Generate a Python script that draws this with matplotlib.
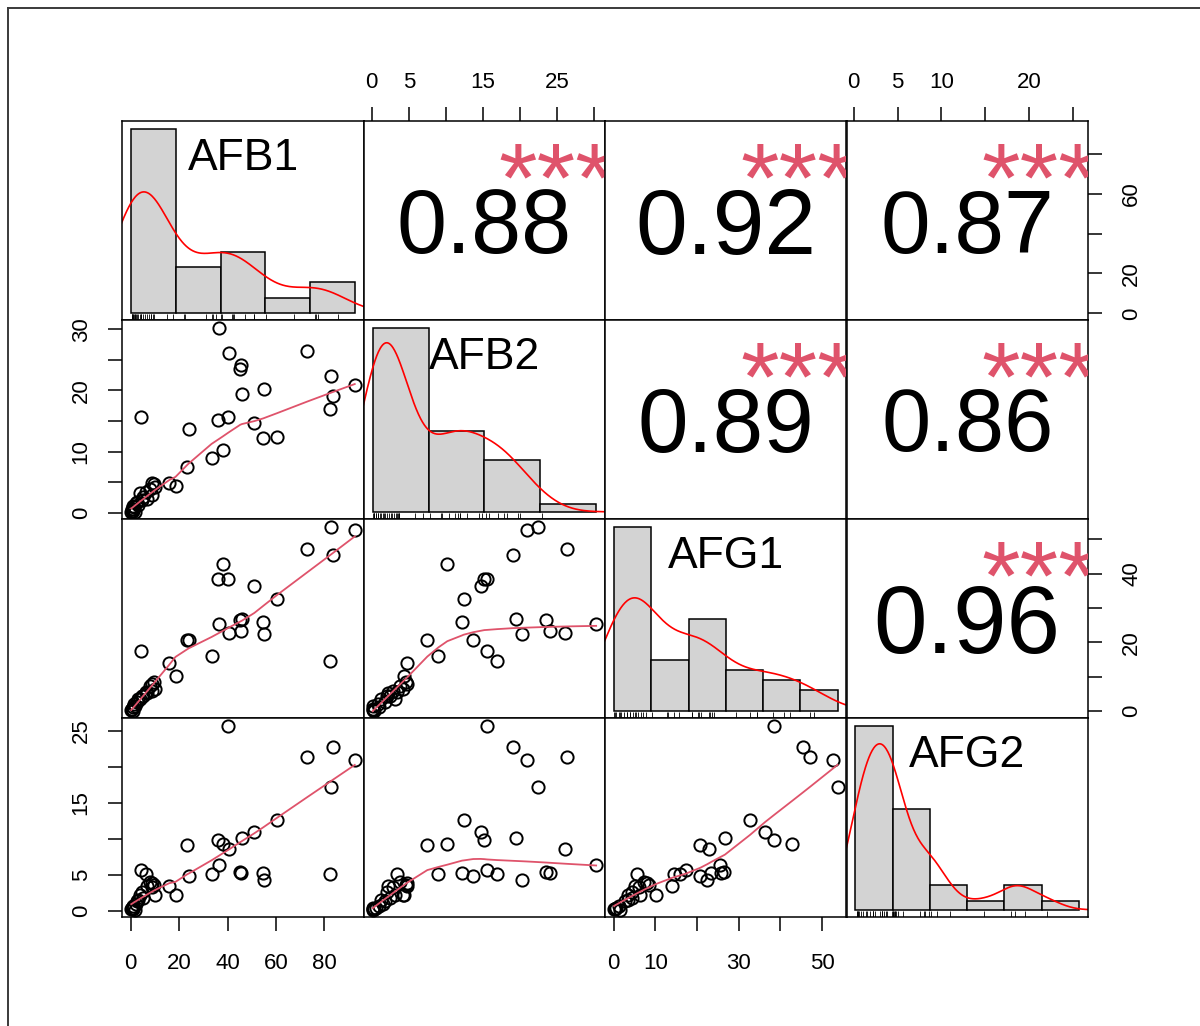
import numpy as np
import matplotlib
matplotlib.use("Agg")
import matplotlib.pyplot as plt
from matplotlib import transforms
from matplotlib.lines import Line2D

plt.rcParams["font.family"] = ["Liberation Sans", "DejaVu Sans"]

# ---------------------------------------------------------------- data
variables = ["AFB1", "AFB2", "AFG1", "AFG2"]

afb1 = [92.6, 83.6, 82.7, 82.2, 72.9, 60.4, 54.7, 54.9, 51.1, 46.0, 45.3, 45.7,
        40.8, 40.2, 36.0, 36.6, 38.1, 33.4, 24.0, 23.4, 4.4, 15.9, 18.5,
        10.1, 9.6, 8.7, 8.9, 8.0, 6.9, 6.2, 5.2, 4.5, 3.9, 3.2, 2.5, 2.1, 1.8,
        1.5, 1.1, 0.9, 0.8, 0.5, 0.4, 0.2]
afb2 = [20.9, 19.1, 22.4, 16.9, 26.4, 12.4, 12.2, 20.3, 14.7, 19.5, 23.5, 24.1,
        26.1, 15.6, 15.2, 30.3, 10.2, 9.0, 13.7, 7.5, 15.6, 4.8, 4.3,
        4.2, 4.6, 4.8, 2.9, 3.8, 2.25, 3.4, 2.5, 2.0, 3.2, 1.27, 1.8, 1.5, 0.16,
        0.9, 1.0, 0.6, 0.3, 0.55, 0.2, 0.12]
afg1 = [52.6, 45.5, 53.7, 14.5, 47.2, 32.7, 25.8, 22.5, 36.4, 26.7, 26.4, 23.4,
        22.8, 38.5, 38.5, 25.4, 42.8, 16.0, 20.8, 20.8, 17.4, 14.1, 10.2,
        6.4, 8.5, 7.9, 6.0, 7.2, 5.2, 5.6, 4.4, 4.4, 3.4, 3.4, 2.8, np.nan, 1.5,
        2.0, 1.2, np.nan, 0.1, np.nan, 0.6, 0.3]
afg2 = [20.9, 22.7, 17.2, 5.2, 21.4, 12.7, 5.3, 4.3, 11.0, 10.1, 5.45, 5.3,
        8.6, 25.7, 9.9, 6.4, 9.3, 5.1, 4.9, 9.2, 5.7, 3.5, 2.3,
        2.3, 3.6, 3.9, 3.3, 4.1, 3.5, 5.1, 1.9, 2.6, 2.3, 1.6, 1.4, 1.0, 0.2,
        np.nan, 0.7, 0.5, 0.3, np.nan, 0.4, 0.25]

# Pearson coefficients and significance codes for the upper panels
corr_cells = [(0, 1), (0, 2), (0, 3), (1, 2), (1, 3), (2, 3)]
corr_values = [0.88, 0.92, 0.87, 0.89, 0.86, 0.96]
corr_signif = ["***", "***", "***", "***", "***", "***"]

# histogram bin width per variable (Freedman-Diaconis result)
hist_bin_width = [20, 10, 10, 5]

# axis ticks and the labels left visible on each outer axis
tick_values = {
    "AFB1": [0, 20, 40, 60, 80],
    "AFB2": [0, 5, 10, 15, 20, 25, 30],
    "AFG1": [0, 10, 20, 30, 40, 50],
    "AFG2": [0, 5, 10, 15, 20, 25],
}
top_labels = {1: ["0", "5", "", "15", "", "25", ""],
              3: ["0", "5", "10", "", "20", ""]}
bottom_labels = {0: ["0", "20", "40", "60", "80"],
                 2: ["0", "10", "", "30", "", "50"]}
left_labels = {1: ["0", "", "10", "", "20", "", "30"],
               3: ["0", "5", "", "15", "", "25"]}
right_labels = {0: ["0", "20", "", "60", ""],
                2: ["0", "", "20", "", "40", ""]}

data = [np.array(v, dtype=float) for v in (afb1, afb2, afg1, afg2)]

# ---------------------------------------------------------------- helpers
ARIAL_W = {".": 0.278, "*": 0.389, "-": 0.333}
for d in "0123456789":
    ARIAL_W[d] = 0.556


def str_em(s):
    return sum(ARIAL_W.get(c, 0.556) for c in s)


def _lowest(x, y, n, xs, nleft, nright, w, userw, rw):
    rng = x[n - 1] - x[0]
    h = max(xs - x[nleft], x[nright] - xs)
    h9, h1 = 0.999 * h, 0.001 * h
    a = 0.0
    j = nleft
    while j < n:
        w[j] = 0.0
        r = abs(x[j] - xs)
        if r <= h9:
            w[j] = 1.0 if r <= h1 else (1 - (r / h) ** 3) ** 3
            if userw:
                w[j] *= rw[j]
            a += w[j]
        elif x[j] > xs:
            break
        j += 1
    nrt = j - 1
    if a <= 0.0:
        return None
    for j in range(nleft, nrt + 1):
        w[j] /= a
    if h > 0:
        a = sum(w[j] * x[j] for j in range(nleft, nrt + 1))
        b = xs - a
        c = sum(w[j] * (x[j] - a) ** 2 for j in range(nleft, nrt + 1))
        if np.sqrt(c) > 0.001 * rng:
            b /= c
            for j in range(nleft, nrt + 1):
                w[j] *= b * (x[j] - a) + 1.0
    return sum(w[j] * y[j] for j in range(nleft, nrt + 1))


def lowess(x, y, f=2 / 3, iters=3):
    o = np.argsort(x, kind="mergesort")
    x = np.asarray(x, float)[o]
    y = np.asarray(y, float)[o]
    n = len(x)
    ns = max(2, min(n, int(f * n + 1e-7)))
    delta = 0.01 * (x[-1] - x[0])
    rw = np.ones(n)
    w = np.zeros(n)
    ys = np.zeros(n)
    for it in range(iters + 1):
        nleft, nright, last, i = 0, ns - 1, -1, 0
        while True:
            if nright < n - 1:
                if x[i] - x[nleft] > x[nright + 1] - x[i]:
                    nleft += 1
                    nright += 1
                    continue
            v = _lowest(x, y, n, x[i], nleft, nright, w, it > 0, rw)
            ys[i] = y[i] if v is None else v
            if last < i - 1:
                den = x[i] - x[last]
                for j in range(last + 1, i):
                    al = (x[j] - x[last]) / den
                    ys[j] = al * ys[i] + (1 - al) * ys[last]
            last = i
            cut = x[last] + delta
            i = last + 1
            while i < n:
                if x[i] > cut:
                    break
                if x[i] == x[last]:
                    ys[i] = ys[last]
                    last = i
                i += 1
            i = max(last + 1, i - 1)
            if last >= n - 1:
                break
        if it >= iters:
            break
        res = y - ys
        sc = np.mean(np.abs(res))
        cmad = 6 * np.median(np.abs(res))
        if cmad < 1e-7 * sc:
            break
        r = np.abs(res)
        rw = np.where(r <= 0.001 * cmad, 1.0,
                      np.where(r <= 0.999 * cmad, (1 - (r / cmad) ** 2) ** 2, 0.0))
    return x, ys


def kde(x):
    n = len(x)
    q75, q25 = np.percentile(x, [75, 25])
    bw = 0.9 * min(np.std(x, ddof=1), (q75 - q25) / 1.34) * n ** -0.2
    g = np.linspace(x.min() - 3 * bw, x.max() + 3 * bw, 512)
    d = np.exp(-0.5 * ((g[:, None] - x[None, :]) / bw) ** 2).sum(1)
    return g, d / (n * bw * np.sqrt(2 * np.pi))


def padded(lo, hi):
    r = hi - lo
    return lo - 0.04 * r, hi + 0.04 * r


# ---------------------------------------------------------------- layout
W, H = 1200, 1026
fig = plt.figure(figsize=(W / 100, H / 100), dpi=100)
col_edges = [122.3, 363.7, 605.1, 846.5, 1087.9]
row_edges = [121.3, 320.3, 519.2, 718.2, 917.2]
cw = col_edges[1] - col_edges[0]
rh = row_edges[1] - row_edges[0]

PX2PT = 72 / 100
TICK_FS = 16
SMOOTH_RED = "#DF536B"
LW_FRAME = 1.1

# outer frame of the graphics device
fig.add_artist(Line2D([8 / W, 8 / W], [0, 1 - 8 / H], transform=fig.transFigure,
                      color="#3a3a3a", lw=1.4))
fig.add_artist(Line2D([8 / W, 1], [1 - 8 / H, 1 - 8 / H], transform=fig.transFigure,
                      color="#3a3a3a", lw=1.4))

lims = []
for v in data:
    vv = v[np.isfinite(v)]
    lims.append(padded(vv.min(), vv.max()))

axes = {}
for i in range(4):
    for j in range(4):
        x0 = col_edges[j] / W
        y0 = 1 - row_edges[i + 1] / H
        ax = fig.add_axes([x0, y0, cw / W, rh / H])
        for s in ax.spines.values():
            s.set_linewidth(LW_FRAME)
        ax.set_xticks([])
        ax.set_yticks([])
        axes[i, j] = ax

# ---------------------------------------------------------------- diagonal
for k, name in enumerate(variables):
    ax = axes[k, k]
    v = data[k][np.isfinite(data[k])]
    bw = hist_bin_width[k]
    b0 = np.floor(v.min() / bw) * bw
    b1 = np.ceil(v.max() / bw) * bw
    breaks = np.arange(b0, b1 + bw / 2, bw)
    idx = np.clip(np.searchsorted(breaks, v, side="left") - 1, 0, len(breaks) - 2)
    counts = np.bincount(idx, minlength=len(breaks) - 1)
    dens = counts / (len(v) * bw)
    ax.set_xlim(*padded(breaks[0], breaks[-1]))
    ax.set_ylim(*padded(0, dens.max()))
    ax.bar(breaks[:-1], dens, width=bw, align="edge", color="#D3D3D3",
           edgecolor="black", linewidth=1.1, zorder=1)
    g, d = kde(v)
    ax.plot(g, d, color="red", lw=1.2, zorder=2)
    ax.vlines(v, 0, 0.03, transform=ax.get_xaxis_transform(), color="black",
              lw=0.6, zorder=3)
    em = 44.5
    ax.text(0.5, 5 / 6, name, fontsize=em * PX2PT, ha="center", va="baseline",
            transform=transforms.offset_copy(ax.transAxes, fig,
                                             y=-0.358 * em * PX2PT, units="points"),
            zorder=4)

# ---------------------------------------------------------------- lower panels
for i in range(4):
    for j in range(4):
        if i == j:
            continue
        ax = axes[i, j]
        ax.set_xlim(*lims[j])
        ax.set_ylim(*lims[i])
        if i > j:
            xv, yv = data[j], data[i]
            ok = np.isfinite(xv) & np.isfinite(yv)
            ax.plot(xv[ok], yv[ok], "o", mfc="none", mec="black", ms=8.8,
                    mew=1.4, zorder=2)
            lx, ly = lowess(xv[ok], yv[ok])
            ax.plot(lx, ly, color=SMOOTH_RED, lw=1.3, zorder=3)

# ---------------------------------------------------------------- upper panels
for (i, j), r, sig in zip(corr_cells, corr_values, corr_signif):
    ax = axes[i, j]
    txt = f"{r:.2f}"
    em_full = 0.8 * cw / str_em(txt)
    em = em_full * (abs(r) + 0.3) / 1.3
    ax.text(0.5, 0.5, txt, fontsize=em * PX2PT, ha="center", va="baseline",
            transform=transforms.offset_copy(ax.transAxes, fig,
                                             y=-0.358 * em * PX2PT, units="points"))
    ax.text(0.8, 0.8, sig, fontsize=em_full * PX2PT, ha="center", va="baseline",
            color=SMOOTH_RED, clip_on=True,
            transform=transforms.offset_copy(ax.transAxes, fig,
                                             y=-0.51 * em_full * PX2PT, units="points"))

# ---------------------------------------------------------------- outer axes
tick_kw = dict(length=10, width=1.1, labelsize=TICK_FS, direction="out")
for j, labs in top_labels.items():
    ax = axes[0, j]
    ax.xaxis.set_ticks_position("top")
    ax.set_xticks(tick_values[variables[j]], labs)
    ax.tick_params(axis="x", pad=10.5, **tick_kw)
for j, labs in bottom_labels.items():
    ax = axes[3, j]
    ax.set_xticks(tick_values[variables[j]], labs)
    ax.tick_params(axis="x", pad=16.0, **tick_kw)
for i, labs in left_labels.items():
    ax = axes[i, 0]
    ax.set_yticks(tick_values[variables[i]], labs)
    ax.tick_params(axis="y", pad=12.0, labelrotation=90, **tick_kw)
    for t in ax.get_yticklabels():
        t.set_va("center")
for i, labs in right_labels.items():
    ax = axes[i, 3]
    ax.yaxis.set_ticks_position("right")
    ax.set_yticks(tick_values[variables[i]], labs)
    ax.tick_params(axis="y", pad=14.0, labelrotation=90, **tick_kw)
    for t in ax.get_yticklabels():
        t.set_va("center")

fig.savefig("out.png", dpi=100)
